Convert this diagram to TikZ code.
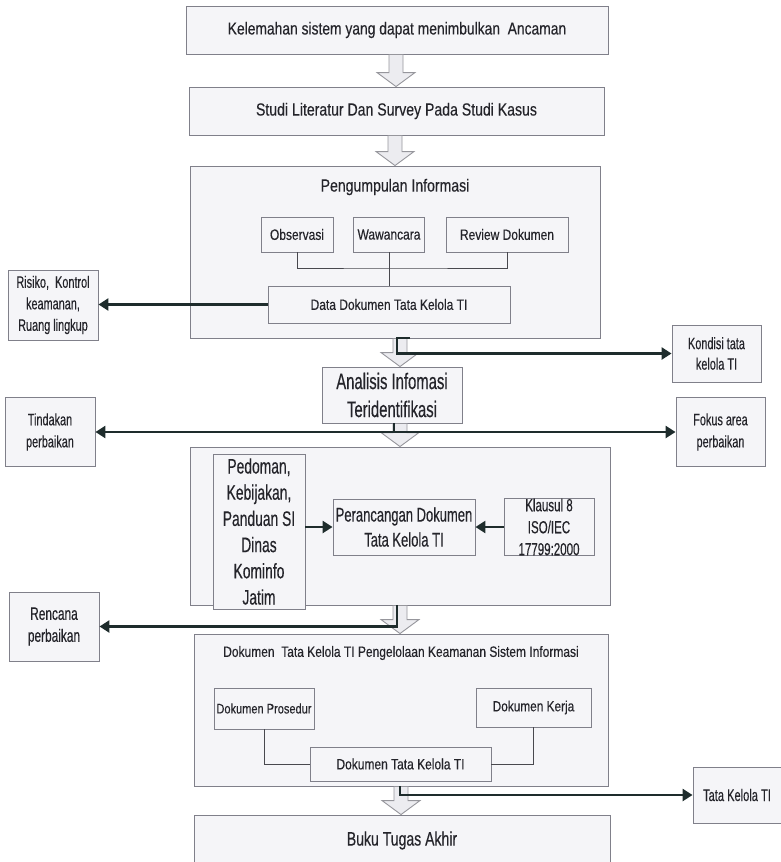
\documentclass[tikz,border=0pt]{standalone}
\usepackage{fontspec}
\setmainfont{Liberation Sans}
% condensed cuts of the same face, slightly thickened
\newfontfamily\fA{Liberation Sans}[FakeStretch=0.80,FakeBold=0.3]
\newfontfamily\fB{Liberation Sans}[FakeStretch=0.72,FakeBold=0.3]
\newfontfamily\fC{Liberation Sans}[FakeStretch=0.66,FakeBold=0.3]
\usetikzlibrary{arrows.meta,calc}
\definecolor{boxline}{RGB}{128,128,138}
\definecolor{boxfill}{RGB}{245,245,248}
\definecolor{txt}{RGB}{36,36,42}
\definecolor{hfill}{RGB}{236,236,240}
\definecolor{hline}{RGB}{150,150,156}
\definecolor{thin}{RGB}{72,72,78}
\definecolor{thick}{RGB}{30,44,44}
\newcommand\fs[2]{\fontsize{#1}{#2}\selectfont}
% hollow block arrow between two stacked nodes, at abscissa #1
\newcommand\hollowarrow[3]{%
  \filldraw[harrow] let \p1=(#2.south), \p2=(#3.north) in
    (#1pt-7pt,\y1) -- (#1pt+7pt,\y1) -- (#1pt+7pt,\y2+14pt) -- (#1pt+19pt,\y2+14pt)
    -- (#1pt,\y2) -- (#1pt-19pt,\y2+14pt) -- (#1pt-7pt,\y2+14pt) -- cycle;}
\begin{document}
\begin{tikzpicture}[x=1pt,y=-1pt,
  box/.style={draw=boxline,fill=boxfill,line width=0.9pt,inner sep=0pt,
    align=center,text=txt},
  label/.style={inner sep=0pt,align=center,text=txt},
  harrow/.style={draw=hline,fill=hfill,line width=0.9pt,line join=miter},
  thinline/.style={draw=thin,line width=0.9pt},
  conn/.style={draw=thick,line width=2.6pt},
  tip/.style={-{Triangle[length=10pt,width=12pt]}}]
\useasboundingbox (0,0) rectangle (781,862);
\clip (0,0) rectangle (781,862);

% main column
\node[box,minimum width=422pt,minimum height=48pt,font=\fA\fs{17.3}{20}] (k1) at (397,30)
  {Kelemahan sistem yang dapat menimbulkan\ \ Ancaman};
\node[box,minimum width=415pt,minimum height=48pt,font=\fA\fs{17.6}{20}] (k2) at (396.5,111)
  {Studi Literatur Dan Survey Pada Studi Kasus};

% information gathering
\node[box,minimum width=410pt,minimum height=172pt] (big1) at (395,252) {};
\node[label,font=\fA\fs{17.6}{20}] (t1) at (395,187) {Pengumpulan Informasi};
\node[box,minimum width=72pt,minimum height=35pt,font=\fA\fs{15}{18}] (obs) at (297,234.5) {Observasi};
\node[box,minimum width=71pt,minimum height=35pt,font=\fA\fs{15}{18}] (waw) at (389,234.5) {Wawancara};
\node[box,minimum width=122pt,minimum height=35pt,font=\fA\fs{15}{18}] (rev) at (507,234.5) {Review Dokumen};
\node[box,minimum width=242pt,minimum height=37pt,font=\fA\fs{15}{18}] (data) at (389,304.5) {Data Dokumen Tata Kelola TI};
\coordinate (hb) at (389,268);
\draw[thinline] (obs.south) |- (hb) -| (rev.south);
\draw[thinline] (waw.south) -- (data.north);

% side outputs
\node[box,minimum width=90pt,minimum height=70pt,font=\fC\fs{16.5}{21.5}] (risiko) at (53,305)
  {Risiko,\ \ Kontrol\\keamanan,\\Ruang lingkup};
\node[box,minimum width=89pt,minimum height=57pt,font=\fC\fs{16.5}{20.5}] (kondisi) at (716.5,353.5)
  {Kondisi tata\\kelola TI};
\node[box,minimum width=90pt,minimum height=69pt,font=\fC\fs{16.5}{22}] (tind) at (50,432)
  {Tindakan\\perbaikan};
\node[box,minimum width=89pt,minimum height=69pt,font=\fC\fs{16.5}{22}] (fokus) at (720.5,432)
  {Fokus area\\perbaikan};
\node[box,minimum width=90pt,minimum height=69pt,font=\fC\fs{18}{22}] (renc) at (54,626.5)
  {Rencana\\perbaikan};
\node[box,minimum width=88pt,minimum height=56pt,font=\fC\fs{16.8}{20}] (tata) at (737,795)
  {Tata Kelola TI};

% analysis
\node[box,minimum width=140pt,minimum height=56pt,font=\fC\fs{22.5}{28}] (anal) at (392,395)
  {Analisis Infomasi\\Teridentifikasi};

% design
\node[box,minimum width=420pt,minimum height=158pt] (big2) at (400,526) {};
\node[box,minimum width=92pt,minimum height=155pt,font=\fC\fs{21}{26.2}] (ped) at (259,531.5)
  {Pedoman,\\Kebijakan,\\Panduan SI\\Dinas\\Kominfo\\Jatim};
\node[box,minimum width=142pt,minimum height=56pt,font=\fC\fs{19.7}{25}] (peran) at (404,527)
  {Perancangan Dokumen\\Tata Kelola TI};
\node[box,minimum width=90pt,minimum height=56pt,font=\fC\fs{17.5}{22}] (klaus) at (549,527)
  {Klausul 8\\ISO/IEC\\17799:2000};
\draw[conn,tip] (peran.west -| ped.east) -- (peran.west);
\draw[conn,tip] (klaus.west) -- (peran.east);

% resulting documents
\node[box,minimum width=414pt,minimum height=152pt] (big3) at (401,710) {};
\node[label,font=\fA\fs{15}{18}] (t3) at (401,653)
  {Dokumen\ \ Tata Kelola TI Pengelolaan Keamanan Sistem Informasi};
\node[box,minimum width=100pt,minimum height=41pt,font=\fA\fs{13.8}{17}] (dpro) at (264,708.5) {Dokumen Prosedur};
\node[box,minimum width=115pt,minimum height=39pt,font=\fA\fs{14.8}{18}] (dker) at (533.5,707.5) {Dokumen Kerja};
\node[box,minimum width=181pt,minimum height=34pt,font=\fA\fs{15}{18}] (dtk) at (400.5,764) {Dokumen Tata Kelola TI};
\draw[thinline] (dpro.south) |- (dtk.west);
\draw[thinline] (dker.south) |- (dtk.east);

\node[box,minimum width=416pt,minimum height=51pt,font=\fB\fs{19.5}{23}] (buku) at (402,840.5) {Buku Tugas Akhir};

% flow arrows
\hollowarrow{396}{k1}{k2}
\hollowarrow{395}{k2}{big1}
\hollowarrow{400}{big1}{anal}
\hollowarrow{400}{anal}{big2}
\hollowarrow{400}{big2}{big3}
\hollowarrow{401}{big3}{buku}

% branch connectors
\draw[conn,tip] (data.west) -- (data.west -| risiko.east);
\coordinate (b1a) at (410,338);
\coordinate (b1b) at (397,338);
\draw[conn,tip,line join=miter] (b1a) -- (b1b) -- (b1b |- kondisi.west) -- (kondisi.west);
\coordinate (b2) at (394,432);
\draw[conn] (anal.south -| b2) -- (b2);
\draw[conn,{Triangle[length=10pt,width=12pt]}-{Triangle[length=10pt,width=12pt]}] (tind.east) -- (fokus.west);
\coordinate (b3) at (397,605);
\draw[conn,tip,line join=miter] (b3) -- (b3 |- renc.east) -- (renc.east);
\coordinate (b4) at (400,786);
\draw[conn,tip,line join=miter] (b4) -- (b4 |- tata.west) -- (tata.west);
\end{tikzpicture}
\end{document}
